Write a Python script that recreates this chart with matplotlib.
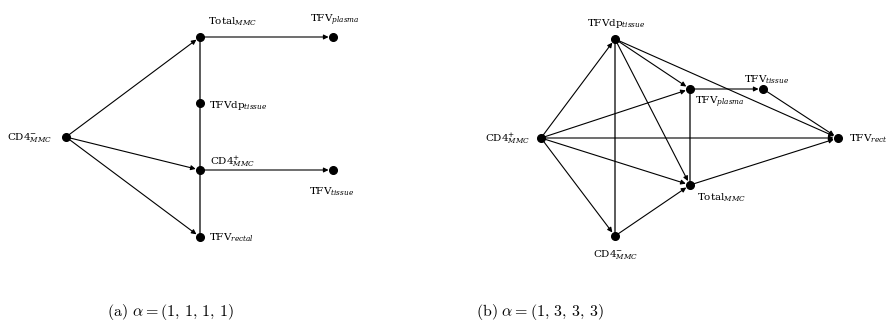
import matplotlib
matplotlib.use("Agg")
import matplotlib.pyplot as plt

plt.rcParams['mathtext.fontset'] = 'dejavuserif'
plt.rcParams['font.family'] = 'DejaVu Serif'

# graph (a): node names, positions (pixel grid of the figure)
a_nodes = ['CD4m', 'Total', 'TFVplasma', 'TFVdp', 'CD4p', 'TFVtissue', 'TFVrectal']
a_x = [66, 200, 333, 200, 200, 333, 200]
a_y = [137, 37, 37, 103, 170, 170, 237]
a_arrows = [('CD4m', 'Total'), ('CD4m', 'CD4p'), ('CD4m', 'TFVrectal'),
            ('Total', 'TFVplasma'), ('CD4p', 'TFVtissue')]
a_lines = [('Total', 'TFVdp'), ('TFVdp', 'CD4p'), ('CD4p', 'TFVrectal')]

# graph (b)
b_nodes = ['TFVdp', 'TFVplasma', 'TFVtissue', 'CD4p', 'TFVrectal', 'Total', 'CD4m']
b_x = [615, 690, 763, 541, 838, 690, 615]
b_y = [39, 89, 89, 138, 138, 185, 236]
b_arrows = [('CD4p', 'TFVdp'), ('CD4p', 'TFVplasma'), ('CD4p', 'TFVrectal'),
            ('CD4p', 'Total'), ('CD4p', 'CD4m'), ('TFVdp', 'TFVplasma'),
            ('TFVdp', 'Total'), ('TFVdp', 'TFVrectal'), ('TFVplasma', 'TFVtissue'),
            ('TFVtissue', 'TFVrectal'), ('Total', 'TFVrectal'), ('CD4m', 'Total')]
b_lines = [('TFVdp', 'CD4m'), ('TFVplasma', 'Total')]

labels = {
    'CD4m': r'CD4$^{-}_{MMC}$',
    'CD4p': r'CD4$^{+}_{MMC}$',
    'Total': r'Total$_{MMC}$',
    'TFVplasma': r'TFV$_{plasma}$',
    'TFVdp': r'TFVdp$_{tissue}$',
    'TFVtissue': r'TFV$_{tissue}$',
    'TFVrectal': r'TFV$_{rectal}$',
}

# label placement: (dx, dy, ha)
a_lab = {'CD4m': (-14, 1, 'right'), 'Total': (8, -15, 'left'),
         'TFVplasma': (-23, -17, 'left'), 'TFVdp': (9, 3, 'left'),
         'CD4p': (10, -8, 'left'), 'TFVtissue': (-24, 22, 'left'),
         'TFVrectal': (9, 1, 'left')}
b_lab = {'TFVdp': (1, -15, 'center'), 'TFVplasma': (5, 13, 'left'),
         'TFVtissue': (-19, -9, 'left'), 'CD4p': (-11, 1, 'right'),
         'TFVrectal': (11, 1, 'left'), 'Total': (7, 13, 'left'),
         'CD4m': (1, 19, 'center')}

fig = plt.figure(figsize=(8.86, 3.33), dpi=100)
ax = fig.add_axes([0, 0, 1, 1])
ax.set_xlim(0, 886)
ax.set_ylim(333, 0)
ax.axis('off')


def draw_graph(names, xs, ys, arrows, lines, lab):
    pos = {n: (x, y) for n, x, y in zip(names, xs, ys)}
    for s, t in lines:
        ax.plot([pos[s][0], pos[t][0]], [pos[s][1], pos[t][1]],
                color='#5a5a5a', lw=1.4, zorder=1)
    for s, t in arrows:
        ax.annotate('', xy=pos[t], xytext=pos[s],
                    arrowprops=dict(arrowstyle='-|>', color='black', lw=0.8,
                                    mutation_scale=7, shrinkA=0, shrinkB=3.2),
                    zorder=2)
    ax.plot(xs, ys, 'o', color='black', markersize=5.5, zorder=3)
    for n in names:
        dx, dy, ha = lab[n]
        ax.text(pos[n][0] + dx, pos[n][1] + dy, labels[n], ha=ha, va='center',
                fontsize=7.5, zorder=4)


draw_graph(a_nodes, a_x, a_y, a_arrows, a_lines, a_lab)
draw_graph(b_nodes, b_x, b_y, b_arrows, b_lines, b_lab)

ax.text(170, 312, r'$\mathrm{(a)}\ \alpha = (1,\,1,\,1,\,1)$', ha='center', va='center',
        fontsize=11.5, math_fontfamily='cm')
ax.text(540, 312, r'$\mathrm{(b)}\ \alpha = (1,\,3,\,3,\,3)$', ha='center', va='center',
        fontsize=11.5, math_fontfamily='cm')

fig.savefig('out.png', dpi=100)
